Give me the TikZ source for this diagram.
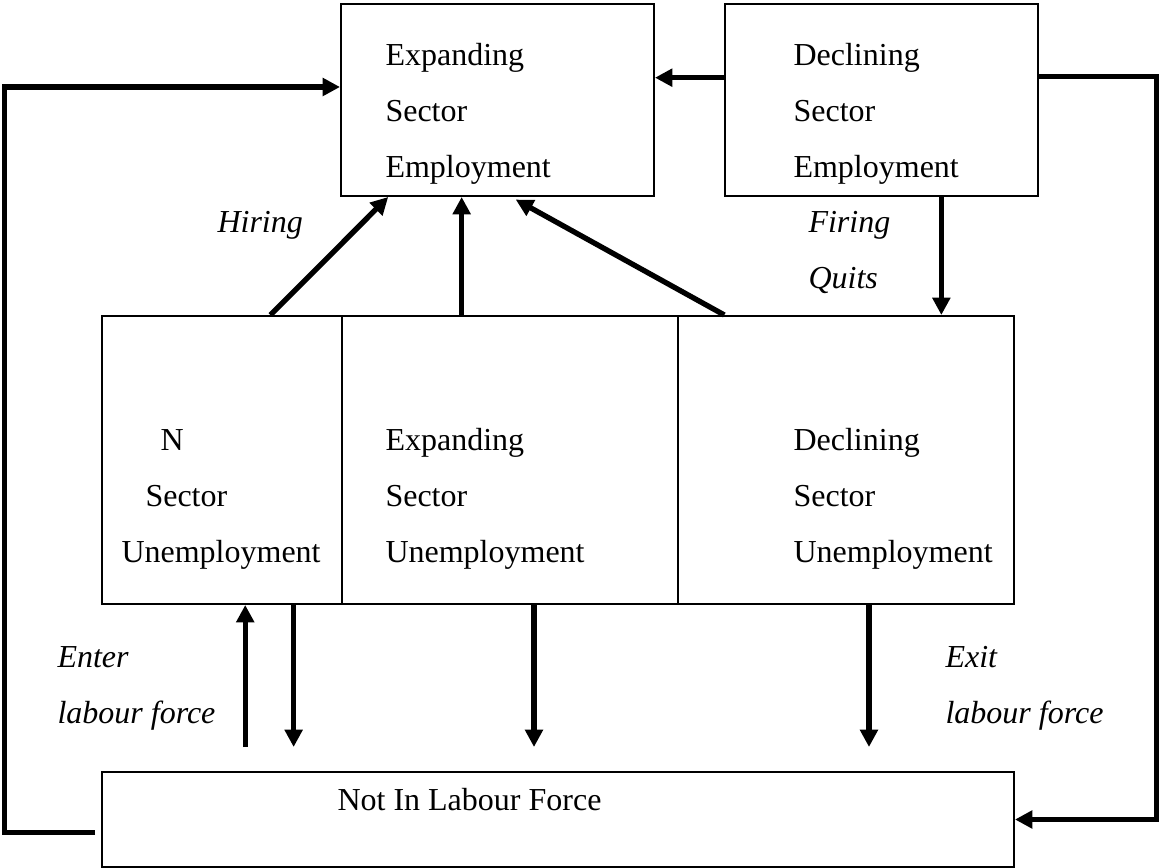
\documentclass[tikz,border=0pt]{standalone}
\usepackage{fontspec}
\setmainfont{Liberation Serif}
\usetikzlibrary{arrows.meta,calc}
\begin{document}
\begin{tikzpicture}[x=0.375pt,y=-0.375pt,
  box/.style={draw,line width=0.75pt,rectangle,inner sep=0pt,anchor=north west},
  sz/.style 2 args={minimum width=#1*0.375pt,minimum height=#2*0.375pt},
  flow/.style={line width=2pt,-{Triangle[length=6.5pt,width=6.5pt]}},
  lbl/.style={anchor=base west,inner sep=0pt,font=\fontsize{12}{14}\selectfont},
  ilbl/.style={anchor=base west,inner sep=0pt,font=\fontsize{12}{14}\selectfont\itshape}]
\useasboundingbox (0,0) rectangle (1159,868);
% boxes
\node[box,sz={313}{192}] (exE) at (340,3) {};
\node[box,sz={313}{192}] (decE) at (724,3) {};
\node[box,sz={240}{288}] (nU) at (101,315) {};
\node[box,sz={336}{288}] (eU) at (341,315) {};
\node[box,sz={336}{288}] (dU) at (677,315) {};
\node[box,sz={912}{95}] (nilf) at (101,771) {};
% texts
\node[lbl] (t1) at (385,66) {Expanding};
\node[lbl] (t2) at (385,122) {Sector};
\node[lbl] (t3) at (385,178) {Employment};
\node[lbl] (t4) at (793,66) {Declining};
\node[lbl] (t5) at (793,122) {Sector};
\node[lbl] (t6) at (793,178) {Employment};
\node[lbl] (t7) at (160,451) {N};
\node[lbl] (t8) at (145,507) {Sector};
\node[lbl] (t9) at (121,563) {Unemployment};
\node[lbl] (t10) at (385,451) {Expanding};
\node[lbl] (t11) at (385,507) {Sector};
\node[lbl] (t12) at (385,563) {Unemployment};
\node[lbl] (t13) at (793,451) {Declining};
\node[lbl] (t14) at (793,507) {Sector};
\node[lbl] (t15) at (793,563) {Unemployment};
\node[lbl] (t16) at (337,810) {Not In Labour Force};
\node[ilbl] (l1) at (217,233) {Hiring};
\node[ilbl] (l2) at (808,233) {Firing};
\node[ilbl] (l3) at (808,289) {Quits};
\node[ilbl] (l4) at (57,667) {Enter};
\node[ilbl] (l5) at (57,723) {labour force};
\node[ilbl] (l6) at (945,667) {Exit};
\node[ilbl] (l7) at (945,723) {labour force};
% helper coordinates
\coordinate (lev) at (0,747);
\coordinate (lc) at (4.5,87);
% hiring arrows
\draw[flow] ($(nU.north west)!0.7!(nU.north east)$) -- ($(exE.south west)!0.153!(exE.south east)$);
\coordinate (h2) at ($(eU.north west)!0.357!(eU.north east)$);
\draw[flow] (h2) -- (h2 |- exE.south);
\draw[flow,shorten >=2pt] ($(dU.north west)!0.14!(dU.north east)$) -- ($(exE.south west)!0.543!(exE.south east)$);
% firing
\coordinate (f1) at ($(decE.south west)!0.69!(decE.south east)$);
\draw[flow] (f1) -- (f1 |- dU.north);
% declining -> expanding
\coordinate (de) at ($(decE.north west)!0.385!(decE.south west)$);
\draw[flow] (de) -- (de -| exE.east);
% right loop
\coordinate (rl) at ($(decE.north east)!0.38!(decE.south east)$);
\draw[flow] (rl) -- ++(118,0) |- (nilf.east);
% left loop
\coordinate (ll) at ($(nilf.north west)!0.632!(nilf.south west)$);
\draw[flow] ([xshift=-2.25pt]ll) -| (lc) -- (lc -| exE.west);
% enter / exit arrows
\coordinate (en) at ($(nU.south west)!0.596!(nU.south east)$);
\draw[flow] (en |- lev) -- (en);
\coordinate (d1) at ($(nU.south west)!0.796!(nU.south east)$);
\draw[flow] (d1) -- (d1 |- lev);
\coordinate (d2) at ($(eU.south west)!0.571!(eU.south east)$);
\draw[flow] (d2) -- (d2 |- lev);
\coordinate (d3) at ($(dU.south west)!0.568!(dU.south east)$);
\draw[flow] (d3) -- (d3 |- lev);
\end{tikzpicture}
\end{document}
